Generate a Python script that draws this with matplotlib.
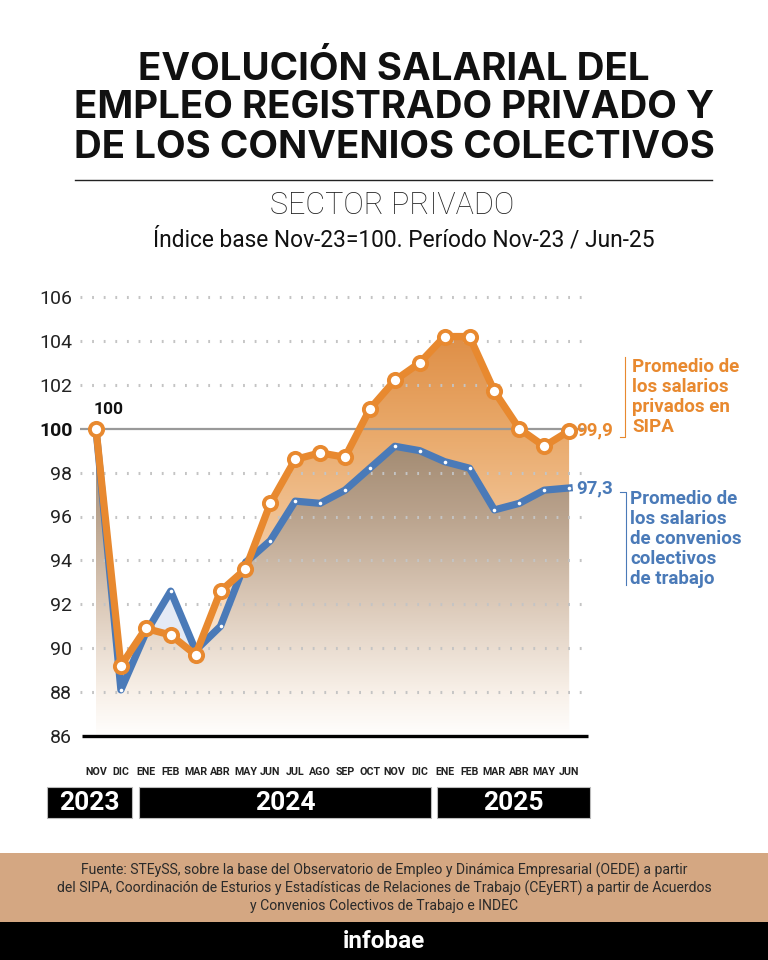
import numpy as np
import matplotlib
matplotlib.use("Agg")
import matplotlib.pyplot as plt
from matplotlib.colors import LinearSegmentedColormap
from matplotlib.patches import Rectangle
from matplotlib.lines import Line2D
import matplotlib.transforms as mtransforms

# ---------------- data ----------------
months = ["NOV", "DIC", "ENE", "FEB", "MAR", "ABR", "MAY", "JUN", "JUL", "AGO",
          "SEP", "OCT", "NOV", "DIC", "ENE", "FEB", "MAR", "ABR", "MAY", "JUN"]
sipa = [100.0, 89.2, 90.9, 90.6, 89.7, 92.6, 93.6, 96.6, 98.6, 98.9,
        98.7, 100.9, 102.2, 103.0, 104.2, 104.2, 101.7, 100.0, 99.2, 99.9]
convenios = [100.0, 88.1, 90.7, 92.6, 89.9, 91.0, 93.9, 94.9, 96.7, 96.6,
             97.2, 98.2, 99.2, 99.0, 98.5, 98.2, 96.3, 96.6, 97.2, 97.3]
years = ["2023", "2024", "2025"]
year_spans = [(-1.97, 1.45), (1.73, 13.47), (13.69, 19.84)]
yticks = [86, 88, 90, 92, 94, 96, 98, 100, 102, 104, 106]

ORANGE = "#E8892F"
BLUE = "#4A7AB8"

W, H = 768, 960
fig = plt.figure(figsize=(W / 100, H / 100), dpi=100)
fig.patch.set_facecolor("white")

def fx(x):
    return x / W

def fy(y):
    return 1 - y / H

# ---------------- title ----------------
title_lines = ["EVOLUCIÓN SALARIAL DEL", "EMPLEO REGISTRADO PRIVADO Y", "DE LOS CONVENIOS COLECTIVOS"]
for t, y in zip(title_lines, [70, 108, 148]):
    fig.text(fx(394), fy(y), t, ha="center", va="center", fontsize=27.7,
             fontweight="bold", family="Inter", color="#111")
fig.add_artist(Line2D([fx(75), fx(712)], [fy(180), fy(180)], color="#222", lw=1.0))
fig.text(fx(392), fy(206), "SECTOR PRIVADO", ha="center", va="center", fontsize=22,
         family="Roboto", fontweight="light", color="#222")
fig.text(fx(404), fy(240), "Índice base Nov-23=100. Período Nov-23 / Jun-25", ha="center",
         va="center", fontsize=16.4, family="Roboto", color="#111")

# ---------------- axes ----------------
x0, dx = 96, 24.9
px_unit = 21.95
ax_left, ax_right, ax_top, ax_bot = 80, 588, 290, 736
ax = fig.add_axes([fx(ax_left), fy(ax_bot), (ax_right - ax_left) / W, (ax_bot - ax_top) / H])
ax.set_facecolor("none")
xs = np.arange(len(months))
sipa_a = np.array(sipa)
conv_a = np.array(convenios)

xlim = ((ax_left - x0) / dx, (ax_right - x0) / dx)
ylim = (86, 86 + (ax_bot - ax_top) / px_unit)

# gradient fills
cm_o = LinearSegmentedColormap.from_list("o", [(0.0, "#fffbf7"), (0.2, "#fbe8d6"),
                                                (0.5, "#f2c598"), (0.75, "#e9a96a"),
                                                (1.0, "#de8d44")])
cm_b = LinearSegmentedColormap.from_list("b", [(0.0, "#fffefd"), (0.15, "#f8f0e8"),
                                                (0.45, "#dbc9b8"), (0.75, "#b9a28c"),
                                                (1.0, "#a18970")])
grad = np.linspace(0, 1, 256).reshape(-1, 1)

poly_o = ax.fill_between(xs, sipa_a, 86, color="none", lw=0)
im_o = ax.imshow(grad, extent=[0, len(xs) - 1, 86, 104.5], origin="lower", aspect="auto",
                 cmap=cm_o, zorder=1, interpolation="bilinear")
im_o.set_clip_path(poly_o.get_paths()[0], ax.transData)

poly_b = ax.fill_between(xs, conv_a, 86, color="none", lw=0)
im_b = ax.imshow(grad, extent=[0, len(xs) - 1, 86, 99.5], origin="lower", aspect="auto",
                 cmap=cm_b, zorder=1.1, interpolation="bilinear")
im_b.set_clip_path(poly_b.get_paths()[0], ax.transData)

ax.fill_between(xs, conv_a, sipa_a, where=conv_a > sipa_a, interpolate=True,
                color="#e4eaf5", lw=0, zorder=1.2)

# grid lines
gx0, gx1 = (80 - x0) / dx, (584 - x0) / dx
for v in yticks[1:]:
    if v == 100:
        ax.plot([gx0, gx1], [v, v], color="#999999", lw=1.6, zorder=1.5, solid_capstyle="butt")
    else:
        ax.plot([gx0, gx1], [v, v], color="#c4c4c4", lw=2.2, ls=(0, (0.6, 3.2)),
                dash_capstyle="butt", zorder=1.5)
ax.plot([(82 - x0) / dx, (588 - x0) / dx], [86, 86], color="black", lw=2.4,
        zorder=5, clip_on=False, solid_capstyle="butt")

# lines
ax.plot(xs, conv_a, color=BLUE, lw=5.2, zorder=3, solid_joinstyle="round",
        marker="o", ms=2.6, mfc="white", mec="white", mew=0)
ax.plot(xs, sipa_a, color=ORANGE, lw=5.2, zorder=4, solid_joinstyle="round",
        marker="o", ms=9.5, mfc="white", mec=ORANGE, mew=2.8)

# value labels
def fmt(v):
    return f"{v:.1f}".replace(".", ",")

ax.annotate("100", (xs[0], sipa_a[0]), xytext=(9, 14), textcoords="offset points",
            ha="center", va="center", fontsize=12.5, fontweight="bold", family="Roboto",
            color="#111", zorder=6)
ax.annotate(fmt(sipa_a[-1]), (xs[-1], sipa_a[-1]), xytext=(5, 0), textcoords="offset points",
            ha="left", va="center", fontsize=13.5, fontweight="bold", family="Roboto",
            color=ORANGE, zorder=6, annotation_clip=False)
ax.annotate(fmt(conv_a[-1]), (xs[-1], conv_a[-1]), xytext=(5, 0), textcoords="offset points",
            ha="left", va="center", fontsize=13.5, fontweight="bold", family="Roboto",
            color=BLUE, zorder=6, annotation_clip=False)

ax.set_xlim(*xlim)
ax.set_ylim(*ylim)
for s in ax.spines.values():
    s.set_visible(False)
ax.set_yticks(yticks)
ax.set_yticklabels([str(v) for v in yticks], fontsize=14, family="Roboto", color="#222")
for lab, v in zip(ax.get_yticklabels(), yticks):
    if v == 100:
        lab.set_fontweight("bold")
        lab.set_color("#111")
ax.tick_params(axis="y", length=0, pad=5.5)
ax.set_xticks(xs)
ax.set_xticklabels(months, fontsize=7.7, fontweight="bold", family="Roboto", color="#222")
ax.tick_params(axis="x", length=0, pad=22)

# year boxes
trans = mtransforms.blended_transform_factory(ax.transData, fig.transFigure)
for yr, (a, b) in zip(years, year_spans):
    r = Rectangle((a, fy(818)), b - a, (818 - 787) / H, transform=trans, facecolor="black",
                  edgecolor="#bbbbbb", lw=0.8, clip_on=False, zorder=5)
    fig.add_artist(r)
    fig.text((a + b) / 2, fy(803), yr, transform=trans, ha="center", va="center",
             fontsize=19, fontweight="bold", family="Roboto", color="white", zorder=6)

# right side legend texts
fig.text(fx(632), fy(397), "Promedio de\nlos salarios\nprivados en\nSIPA", ha="left",
         va="center", fontsize=13.5, fontweight="bold", family="Roboto", color=ORANGE,
         linespacing=1.15)
fig.add_artist(Line2D([fx(625), fx(625), fx(620)], [fy(357), fy(437), fy(437)],
                      color=ORANGE, lw=0.8))
fig.text(fx(630), fy(539), "Promedio de\nlos salarios\nde convenios\ncolectivos\nde trabajo",
         ha="left", va="center", fontsize=13.5, fontweight="bold", family="Roboto",
         color=BLUE, linespacing=1.15)
fig.add_artist(Line2D([fx(620), fx(626), fx(626)], [fy(492), fy(492), fy(585)],
                      color=BLUE, lw=0.8))

# footer
fig.add_artist(Rectangle((0, fy(922)), 1, (922 - 853) / H, transform=fig.transFigure,
                         facecolor="#D4A782", edgecolor="none"))
fig.text(0.5, fy(888), "Fuente: STEySS, sobre la base del Observatorio de Empleo y Dinámica Empresarial (OEDE) a partir\n"
         "del SIPA, Coordinación de Esturios y Estadísticas de Relaciones de Trabajo (CEyERT) a partir de Acuerdos\n"
         "y Convenios Colectivos de Trabajo e INDEC", ha="center", va="center", fontsize=10.1,
         family="Roboto", color="#2a2a2a", linespacing=1.26)
fig.add_artist(Rectangle((0, 0), 1, (960 - 922) / H, transform=fig.transFigure,
                         facecolor="black", edgecolor="none"))
fig.text(0.5, fy(941), "infobae", ha="center", va="center", fontsize=17.5, fontweight="bold",
         family="Roboto", color="white")

fig.savefig("out.png", dpi=100, facecolor="white")
